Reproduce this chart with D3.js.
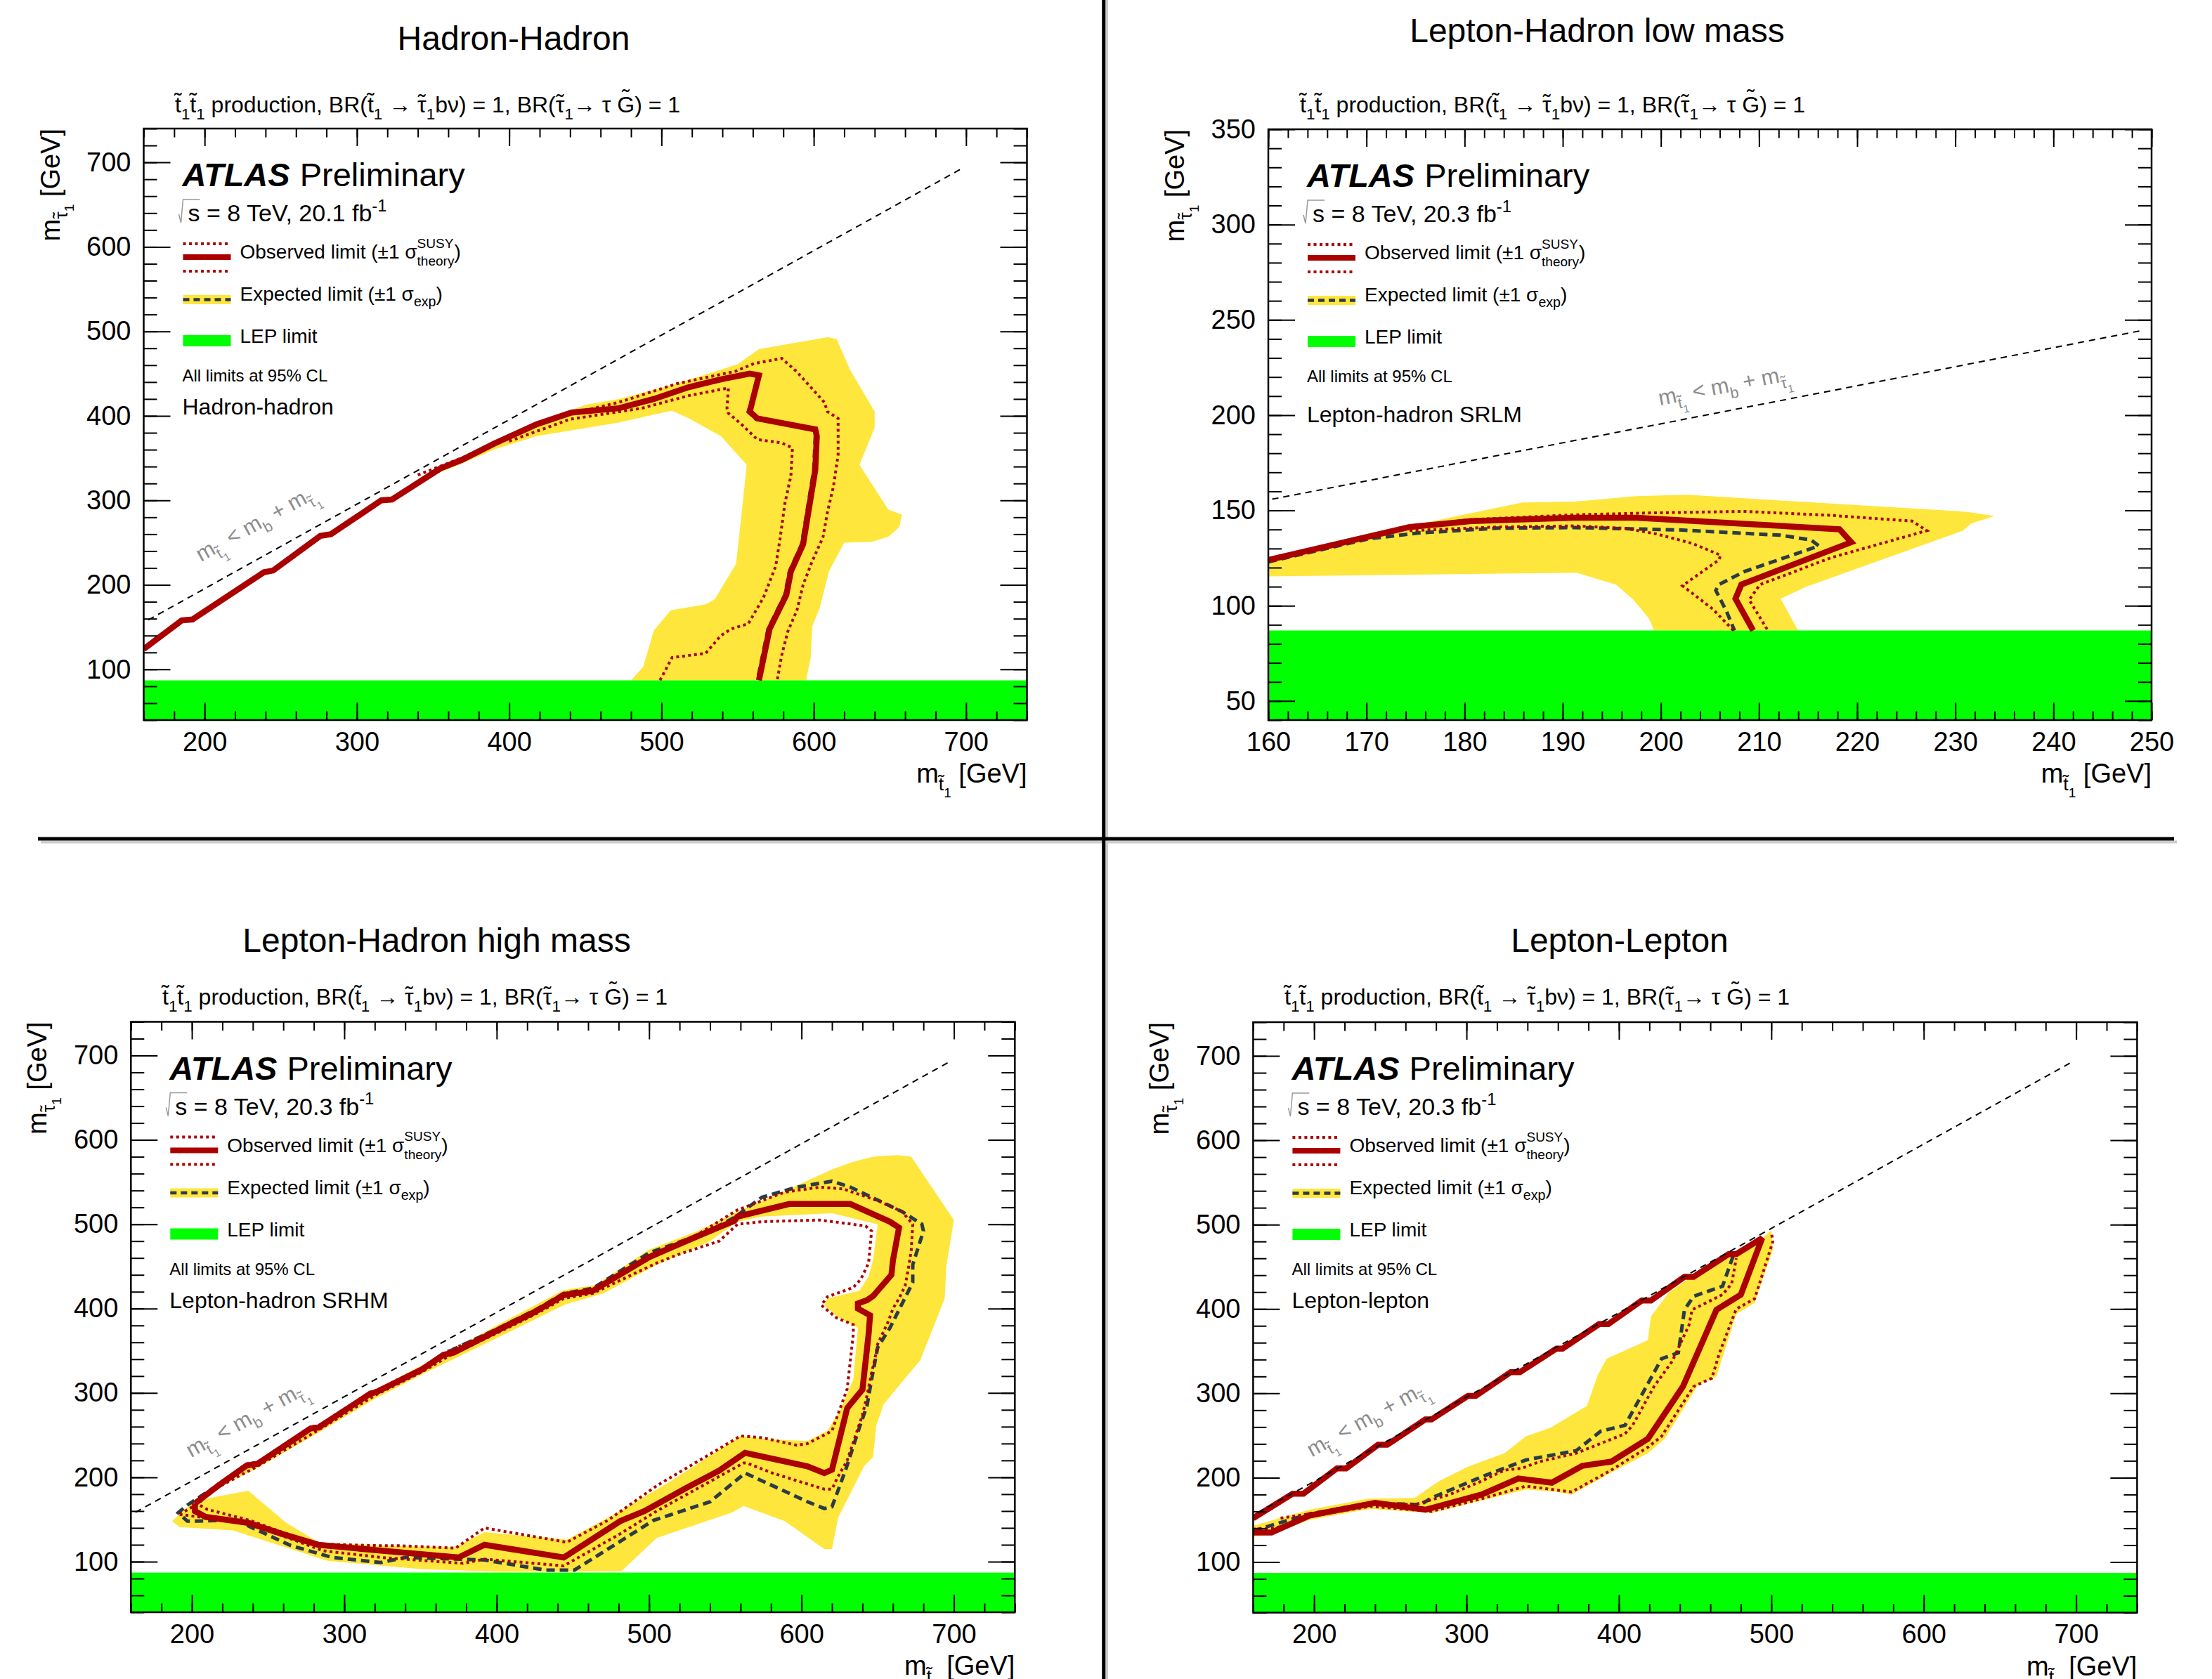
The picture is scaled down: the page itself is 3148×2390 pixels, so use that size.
<!DOCTYPE html>
<html>
<head>
<meta charset="utf-8">
<script src="https://cdn.jsdelivr.net/npm/d3@7"></script>
<style>
body { margin: 0; background: #fff; }
text { font-family: "Liberation Sans", Arial, Helvetica, sans-serif; white-space: pre; }
</style>
</head>
<body>
<svg id="c" width="3148" height="2390"></svg>
<script>
// all points are [m_stop, m_stau] in GeV
var lepLimit = 87;
var kinLineWide = [[163, 158.5], [696, 691.5]];
var kinLineLow = [[160.4, 155.9], [249, 244.4]];

var xTicksWide = [200, 300, 400, 500, 600, 700];
var yTicksWide = [100, 200, 300, 400, 500, 600, 700];
var xTicksLow = [160, 170, 180, 190, 200, 210, 220, 230, 240, 250];
var yTicksLow = [50, 100, 150, 200, 250, 300, 350];

// Hadron-Hadron
var obsHH = [[160,124],[185,158],[192,159],[239,215],[245,217],[276,258],[283,260],[316,300],[323,301],[355,338],[369,348],[390,367],[418,390],[441,404],[472,409],[495,420],[518,434],[541,444],[558,450],[564,448],[558,405],[563,397],[601,384],[602,376],[601,336],[593,248],[585,216],[582,188],[571,148],[564,87]];
var expHH = [[160,124],[185,158],[192,159],[239,215],[245,217],[276,258],[283,260],[316,300],[323,301],[355,338],[369,348],[390,367],[418,390],[441,404],[472,409],[495,420],[518,434],[541,444],[558,450],[564,448],[557,405],[562,396],[600,384],[601,376],[600,336],[592,248],[584,216],[581,188],[570,148],[563,87]];
var upHH = [[340,330],[370,351],[400,376],[430,398],[472,416],[510,438],[549,453],[561,462],[579,468],[589,452],[595,440],[607,416],[609,405],[616,397],[616,354],[613,317],[609,286],[606,256],[599,228],[593,200],[589,170],[583,145],[579,117],[576,87]];
var dnHH = [[400,370],[440,396],[487,409],[518,424],[544,433],[543,409],[544,403],[552,391],[563,372],[579,368],[586,362],[585,329],[581,296],[578,256],[575,222],[567,185],[557,154],[546,148],[539,140],[529,119],[507,114],[499,87]];
var bandHH = [[343,328],[370,352],[395,371],[420,393],[450,413],[472,420],[510,438],[550,461],[564,479],[609,493],[615,491],[624,454],[640,405],[640,386],[630,342],[649,289],[658,283],[656,268],[649,257],[638,251],[620,250],[610,216],[604,173],[599,151],[598,114],[595,87],[480,87],[488,103],[495,146],[506,170],[529,177],[535,183],[549,225],[552,274],[556,342],[539,376],[518,397],[507,406],[499,403],[472,392],[418,376],[390,360],[367,342],[343,325]];

// Lepton-Hadron low mass
var obsLHL = [[160,124],[174.4,141.3],[180.7,144.4],[191.2,146.2],[197.5,146.2],[218.2,140.1],[219.4,133.3],[208.2,111.1],[207.6,103.7],[209.4,87]];
var expLHL = [[160,123],[170.2,135.1],[175.4,138.2],[183.3,140.7],[191.2,141],[201.7,139.8],[212.2,137],[215.3,134.5],[216.1,131.4],[208.5,117.9],[205.9,111.1],[205.6,108],[206.7,96.9],[207.5,87]];
var upLHL = [[174.4,141.8],[180.7,145.2],[191.2,147.7],[199,148.7],[208.5,149.5],[217.4,147.4],[225.6,144.4],[227.1,139.4],[217.4,125.3],[210.1,111.1],[209,103.1],[210.9,87]];
var dnLHL = [[174.4,139.4],[183.3,141.3],[191.2,141.9],[196.4,140.6],[199.6,137.6],[203.2,132.7],[206.1,126.5],[205.9,124],[202.2,110.5],[205.3,98.2],[207.4,87]];
var bandLHL = [[160,125.3],[174.4,141.9],[185.9,154.2],[191.2,154.6],[197.5,157.5],[202.7,158.2],[231.1,149.3],[234,147.1],[231.6,143.1],[230.8,139.4],[214.8,109.9],[212.2,103.7],[213.7,89.6],[214,87],[199.3,87],[198.8,93.2],[197.2,103.1],[195.4,111.1],[191.4,117.3],[160,115.4]];

// Lepton-Hadron high mass
var obsLHH = [[202,169],[218,191],[236,214],[243,216],[278,258],[283,259],[317,299],[321,301],[351,328],[365,345],[372,348],[398,372],[426,397],[444,416],[463,421],[500,461],[532,486],[556,504],[558,509],[592,524],[632,524],[658,503],[664,496],[660,457],[659,440],[647,415],[643,410],[637,406],[637,400],[645,392],[644,369],[640,304],[630,282],[620,209],[615,205],[604,213],[563,229],[546,208],[524,187],[497,160],[481,148],[444,105],[392,120],[375,105],[324,113],[283,120],[259,133],[237,146],[209,153],[202,160],[202,169]];
var expLHH = [[197,167],[218,192],[236,215],[243,217],[278,259],[283,260],[317,300],[321,302],[351,329],[365,346],[398,374],[426,399],[444,418],[463,424],[500,466],[537,490],[556,508],[574,532],[597,544],[620,551],[632,544],[666,515],[679,500],[680,492],[673,452],[673,431],[658,377],[650,354],[646,316],[643,285],[638,259],[629,209],[620,165],[615,163],[604,171],[563,205],[540,171],[503,149],[451,90],[432,90],[392,102],[340,105],[324,99],[292,105],[265,119],[229,149],[197,148],[191,158],[197,167]];
var upLHH = [[192,156],[205,170],[218,193],[236,216],[243,218],[278,260],[283,261],[317,301],[321,303],[351,330],[365,347],[398,374],[426,399],[444,418],[463,423],[500,463],[532,488],[558,517],[589,538],[612,544],[627,542],[650,528],[666,515],[673,500],[672,469],[670,446],[668,427],[664,412],[660,400],[657,385],[650,358],[648,339],[646,324],[643,297],[640,274],[635,247],[630,220],[624,201],[620,186],[615,186],[604,192],[581,205],[564,217],[562,217],[505,160],[481,133],[444,95],[392,103],[378,98],[324,105],[286,113],[265,127],[238,144],[205,153],[192,156]];
var dnLHH = [[202,170],[210,162],[238,149],[259,135],[283,121],[321,119],[335,119],[373,116],[392,140],[446,123],[473,149],[505,190],[560,249],[574,247],[597,238],[604,240],[620,255],[626,285],[630,305],[634,370],[634,381],[623,389],[613,404],[617,414],[634,425],[639,435],[644,454],[646,492],[642,498],[612,505],[574,503],[558,500],[546,480],[519,464],[505,454],[463,418],[444,412],[426,394],[398,369],[370,345],[351,325],[321,298],[283,256],[243,213],[218,189],[202,170]];
var bandLHHout = [[187,148],[194,160],[202,172],[218,194],[243,219],[284,262],[321,304],[351,333],[372,352],[400,380],[444,422],[465,428],[500,470],[532,492],[558,515],[592,542],[620,565],[634,574],[647,580],[663,582],[672,580],[700,505],[695,450],[694,412],[678,339],[654,287],[649,261],[647,224],[641,213],[624,152],[620,115],[615,115],[589,148],[562,166],[554,158],[505,128],[482,89],[405,88],[351,91],[289,101],[227,137],[192,141]];
var bandLHHin = [[203,171],[215,186],[243,211],[284,254],[320,293],[351,322],[400,365],[445,405],[470,418],[505,452],[540,480],[558,503],[574,509],[620,513],[650,500],[647,458],[644,438],[638,421],[617,412],[615,404],[623,391],[637,377],[634,316],[626,282],[617,255],[604,243],[577,245],[560,249],[513,194],[473,152],[446,126],[392,135],[373,117],[324,119],[283,123],[262,146],[237,184],[213,176]];

// Lepton-Lepton
var obsLL = [[160,152],[186,181],[193,181],[215,211],[221,211],[242,239],[248,239],[273,269],[277,269],[301,297],[306,297],[329,325],[335,325],[359,353],[363,353],[387,382],[393,382],[415,410],[421,410],[443,438],[449,438],[472,465],[477,465],[494,484],[480,417],[464,399],[442,308],[419,246],[395,219],[376,214],[356,194],[334,199],[310,180],[273,162],[240,170],[197,155],[172,135],[160,135]];
var expLL = [[160,137],[197,157],[237,170],[270,168],[277,176],[310,201],[339,221],[372,232],[388,255],[404,262],[428,341],[439,348],[443,399],[449,415],[468,427],[475,463]];
var upLL = [[160,139],[174,140],[200,155],[237,166],[277,160],[310,175],[339,190],[369,183],[395,209],[419,236],[428,249],[449,308],[461,318],[466,348],[477,400],[489,412],[494,440],[501,480],[500,491]];
var dnLL = [[178,152],[197,157],[242,170],[266,168],[289,180],[310,196],[325,209],[336,211],[348,219],[372,229],[404,252],[409,262],[423,308],[435,338],[446,381],[448,399],[468,417],[474,430],[477,460]];
var bandLL = [[160,143],[197,162],[235,175],[266,176],[282,196],[301,213],[325,229],[339,249],[355,259],[379,285],[386,321],[392,341],[419,363],[421,391],[433,420],[449,440],[473,463],[494,484],[500,493],[501,470],[489,407],[477,394],[464,320],[452,310],[430,246],[419,229],[395,206],[369,180],[360,183],[339,186],[310,173],[277,158],[237,163],[197,150],[174,134],[160,130]];

var YEL = "#fee63c", RED = "#aa0000", EXPC = "#2c3b45", GRN = "#00ff00";

var panels = [
  {title: "Hadron-Hadron", tx: 731, ty: 71, sx: 249, sy: 160, box: [204.5, 183, 1257, 842],
   xDom: [160, 740], yDom: [40, 740], xMaj: xTicksWide, xStep: 20, yMaj: yTicksWide, yStep: 20,
   lumi: "20.1", region: "Hadron-hadron", regDy: 0,
   band: [bandHH], exp: expHH, up: upHH, dn: dnHH, obs: obsHH, kin: kinLineWide, kinLab: [197.6, 227]},
  {title: "Lepton-Hadron low mass", tx: 2273, ty: 60, sx: 1850, sy: 160, box: [1805, 184, 1257, 841],
   xDom: [160, 250], yDom: [40, 350], xMaj: xTicksLow, xStep: 2, yMaj: yTicksLow, yStep: 10,
   lumi: "20.3", region: "Lepton-hadron SRLM", regDy: 10,
   band: [bandLHL], exp: expLHL, up: upLHL, dn: dnLHL, obs: obsLHL, kin: kinLineLow, kinLab: [199.9, 205]},
  {title: "Lepton-Hadron high mass", tx: 621.5, ty: 1355, sx: 231, sy: 1430, box: [186.3, 1454.5, 1258, 840.5],
   xDom: [160, 740], yDom: [40, 740], xMaj: xTicksWide, xStep: 20, yMaj: yTicksWide, yStep: 20,
   lumi: "20.3", region: "Lepton-hadron SRHM", regDy: 0,
   band: [bandLHHout, bandLHHin], exp: expLHH, up: upLHH, dn: dnLHH, obs: obsLHH, kin: kinLineWide, kinLab: [199.5, 223]},
  {title: "Lepton-Lepton", tx: 2305, ty: 1355, sx: 1828, sy: 1430, box: [1783.4, 1455, 1258, 840.5],
   xDom: [160, 740], yDom: [40, 740], xMaj: xTicksWide, xStep: 20, yMaj: yTicksWide, yStep: 20,
   lumi: "20.3", region: "Lepton-lepton", regDy: 0,
   band: [bandLL], exp: expLL, up: upLL, dn: dnLL, obs: obsLL, kin: kinLineWide, kinLab: [198.5, 224]}
];

var svg = d3.select("#c");

function txt(parent, x, y, s, fs, fill) {
  return parent.append("text").attr("x", x).attr("y", y)
    .attr("font-size", fs).attr("fill", fill || "#000").text(s);
}

// ROOT-like text with sub/superscripts and tildes, returns width
function rich(parent, x0, y0, parts, size, fill) {
  var cx = x0;
  parts.forEach(function (p) {
    if (typeof p === "string") p = {t: p};
    if (p.stack) {
      var a = txt(parent, cx, y0 - 0.54 * size, p.stack[0], size * 0.68, fill);
      var b = txt(parent, cx, y0 + 0.36 * size, p.stack[1], size * 0.68, fill);
      cx += Math.max(a.node().getComputedTextLength(), b.node().getComputedTextLength());
      return;
    }
    var sc = 1, dy = 0;
    if (p.lv === "sub") { sc = 0.7; dy = 0.3; }
    if (p.lv === "sub2") { sc = 0.5; dy = 0.55; }
    if (p.lv === "sup") { sc = 0.7; dy = -0.42; }
    var fs = size * sc;
    var t = txt(parent, cx, y0 + dy * size, p.t, fs, fill);
    if (p.b) t.attr("font-weight", "bold");
    if (p.i) t.attr("font-style", "italic");
    var w = t.node().getComputedTextLength();
    if (p.tl != null) {
      txt(parent, cx + w / 2, y0 + dy * size - p.tl * fs, "\u02dc", fs, fill).attr("text-anchor", "middle");
    }
    cx += w;
  });
  return cx - x0;
}

var subtitleParts = [{t: "t", tl: 0.15}, {t: "1", lv: "sub"}, {t: "t", tl: 0.15}, {t: "1", lv: "sub"},
  " production, BR(", {t: "t", tl: 0.15}, {t: "1", lv: "sub"}, " \u2192 ", {t: "\u03c4", tl: 0.1}, {t: "1", lv: "sub"},
  "b\u03bd) = 1, BR(", {t: "\u03c4", tl: 0.1}, {t: "1", lv: "sub"}, "\u2192 \u03c4 ", {t: "G", tl: 0.3}, ") = 1"];
var kinParts = ["m", {t: "t", lv: "sub", tl: 0.15}, {t: "1", lv: "sub2"}, " < m", {t: "b", lv: "sub"},
  " + m", {t: "\u03c4", lv: "sub", tl: 0.1}, {t: "1", lv: "sub2"}];
var xLabParts = ["m", {t: "t", lv: "sub", tl: 0.15}, {t: "1", lv: "sub2"}, " [GeV]"];
var yLabParts = ["m", {t: "\u03c4", lv: "sub", tl: 0.1}, {t: "1", lv: "sub2"}, " [GeV]"];

function drawLegend(g, p, bx, by) {
  var lx = bx + 55;
  var aw = rich(g, lx, by + 82, [{t: "ATLAS", b: 1, i: 1}], 47);
  rich(g, lx + aw + 14, by + 82, ["Preliminary"], 47);

  g.append("path")
    .attr("d", "M" + (lx - 5) + "," + (by + 122) + "L" + (lx - 2) + "," + (by + 134) +
      "L" + (lx + 1) + "," + (by + 101) + "L" + (lx + 25) + "," + (by + 101))
    .attr("fill", "none").attr("stroke", "#999").attr("stroke-width", 1.5);
  rich(g, lx + 8, by + 132, ["s = 8 TeV, " + p.lumi + " fb", {t: "-1", lv: "sup"}], 34);

  var sx0 = lx + 1, sx1 = lx + 69;
  [by + 164, by + 203].forEach(function (yy) {
    g.append("line").attr("x1", sx0).attr("x2", sx1).attr("y1", yy).attr("y2", yy)
      .attr("stroke", RED).attr("stroke-width", 4).attr("stroke-dasharray", "4,4.5");
  });
  g.append("line").attr("x1", sx0).attr("x2", sx1).attr("y1", by + 183).attr("y2", by + 183)
    .attr("stroke", RED).attr("stroke-width", 8);
  rich(g, lx + 82, by + 185, ["Observed limit (\u00b11 \u03c3", {stack: ["SUSY", "theory"]}, ")"], 28);

  g.append("rect").attr("x", sx0).attr("y", by + 237).attr("width", sx1 - sx0).attr("height", 13).attr("fill", YEL);
  g.append("line").attr("x1", sx0).attr("x2", sx1).attr("y1", by + 243.5).attr("y2", by + 243.5)
    .attr("stroke", EXPC).attr("stroke-width", 4.5).attr("stroke-dasharray", "9,6");
  rich(g, lx + 82, by + 245, ["Expected limit (\u00b11 \u03c3", {t: "exp", lv: "sub"}, ")"], 28);

  g.append("rect").attr("x", sx0).attr("y", by + 294).attr("width", sx1 - sx0).attr("height", 16).attr("fill", GRN);
  rich(g, lx + 82, by + 305, ["LEP limit"], 28);

  rich(g, lx, by + 360, ["All limits at 95% CL"], 24);
  rich(g, lx, by + 407 + p.regDy, [p.region], 32);
}

panels.forEach(function (p, i) {
  var bx = p.box[0], by = p.box[1], bw = p.box[2], bh = p.box[3];
  var x = d3.scaleLinear().domain(p.xDom).range([bx, bx + bw]);
  var y = d3.scaleLinear().domain(p.yDom).range([by + bh, by]);
  var g = svg.append("g");

  txt(g, p.tx, p.ty, p.title, 48).attr("text-anchor", "middle");
  rich(g, p.sx, p.sy, subtitleParts, 32);

  g.append("clipPath").attr("id", "clip" + i).append("rect")
    .attr("x", bx).attr("y", by).attr("width", bw).attr("height", bh);
  var plot = g.append("g").attr("clip-path", "url(#clip" + i + ")");
  var line = d3.line().x(function (d) { return x(d[0]); }).y(function (d) { return y(d[1]); });

  plot.append("path").attr("d", p.band.map(function (r) { return line(r) + "Z"; }).join(""))
    .attr("fill", YEL).attr("fill-rule", "evenodd");
  plot.append("rect").attr("x", bx).attr("y", y(lepLimit)).attr("width", bw)
    .attr("height", y(p.yDom[0]) - y(lepLimit)).attr("fill", GRN);

  plot.append("path").attr("d", line(p.exp)).attr("fill", "none").attr("stroke", EXPC)
    .attr("stroke-width", 5).attr("stroke-dasharray", "12,7");
  [p.up, p.dn].forEach(function (c) {
    plot.append("path").attr("d", line(c)).attr("fill", "none").attr("stroke", RED)
      .attr("stroke-width", 4).attr("stroke-dasharray", "4,4.5");
  });
  plot.append("path").attr("d", line(p.obs)).attr("fill", "none").attr("stroke", RED)
    .attr("stroke-width", 8.5).attr("stroke-linejoin", "miter").attr("stroke-miterlimit", 3);

  plot.append("path").attr("d", line(p.kin)).attr("fill", "none").attr("stroke", "#000")
    .attr("stroke-width", 2).attr("stroke-dasharray", "9,7");
  var ang = Math.atan2(y(p.kin[0][1]) - y(p.kin[1][1]), x(p.kin[1][0]) - x(p.kin[0][0])) * 180 / Math.PI;
  var kg = g.append("g").attr("transform", "translate(" + x(p.kinLab[0]) + "," + y(p.kinLab[1]) + ") rotate(" + (-ang) + ")");
  rich(kg, 0, 0, kinParts, 31, "#8c8c8c");

  drawLegend(g, p, bx, by);

  // axes, ROOT style: ticks inside on all four sides
  function minor(dom, step) { return d3.range(dom[0], dom[1] + 1e-6, step); }
  function styleAx(sel) {
    sel.select(".domain").remove();
    sel.attr("font-size", 38).attr("font-family", '"Liberation Sans", Arial, Helvetica, sans-serif');
    sel.selectAll("line").attr("stroke-width", 2);
  }
  g.append("g").attr("transform", "translate(0," + (by + bh) + ")")
    .call(d3.axisBottom(x).tickValues(p.xMaj).tickSize(-25).tickPadding(17).tickFormat(d3.format("d"))).call(styleAx);
  g.append("g").attr("transform", "translate(0," + (by + bh) + ")")
    .call(d3.axisBottom(x).tickValues(minor(p.xDom, p.xStep)).tickSize(-12.5).tickFormat("")).call(styleAx);
  g.append("g").attr("transform", "translate(0," + by + ")")
    .call(d3.axisTop(x).tickValues(p.xMaj).tickSize(-25).tickFormat("")).call(styleAx);
  g.append("g").attr("transform", "translate(0," + by + ")")
    .call(d3.axisTop(x).tickValues(minor(p.xDom, p.xStep)).tickSize(-12.5).tickFormat("")).call(styleAx);
  g.append("g").attr("transform", "translate(" + bx + ",0)")
    .call(d3.axisLeft(y).tickValues(p.yMaj).tickSize(-38).tickPadding(18).tickFormat(d3.format("d"))).call(styleAx);
  g.append("g").attr("transform", "translate(" + bx + ",0)")
    .call(d3.axisLeft(y).tickValues(minor(p.yDom, p.yStep)).tickSize(-19).tickFormat("")).call(styleAx);
  g.append("g").attr("transform", "translate(" + (bx + bw) + ",0)")
    .call(d3.axisRight(y).tickValues(p.yMaj).tickSize(-38).tickFormat("")).call(styleAx);
  g.append("g").attr("transform", "translate(" + (bx + bw) + ",0)")
    .call(d3.axisRight(y).tickValues(minor(p.yDom, p.yStep)).tickSize(-19).tickFormat("")).call(styleAx);

  g.append("rect").attr("x", bx).attr("y", by).attr("width", bw).attr("height", bh)
    .attr("fill", "none").attr("stroke", "#000").attr("stroke-width", 2.5);

  var xl = g.append("g");
  var xw = rich(xl, 0, 0, xLabParts, 38);
  xl.attr("transform", "translate(" + (bx + bw - xw) + "," + (by + bh + 89) + ")");
  var yl = g.append("g");
  var yw = rich(yl, 0, 0, yLabParts, 38);
  yl.attr("transform", "translate(" + (bx - 120) + "," + by + ") rotate(-90) translate(" + (-yw) + ",0)");
});

// panel dividers
svg.append("line").attr("x1", 1575).attr("x2", 1575).attr("y1", 0).attr("y2", 2390)
  .attr("stroke", "#ccc").attr("stroke-width", 4);
svg.append("line").attr("x1", 58).attr("x2", 3098).attr("y1", 1198.5).attr("y2", 1198.5)
  .attr("stroke", "#ccc").attr("stroke-width", 4);
svg.append("line").attr("x1", 1570.7).attr("x2", 1570.7).attr("y1", 0).attr("y2", 2390)
  .attr("stroke", "#000").attr("stroke-width", 5);
svg.append("line").attr("x1", 54).attr("x2", 3094).attr("y1", 1194).attr("y2", 1194)
  .attr("stroke", "#000").attr("stroke-width", 5);
</script>
</body>
</html>
